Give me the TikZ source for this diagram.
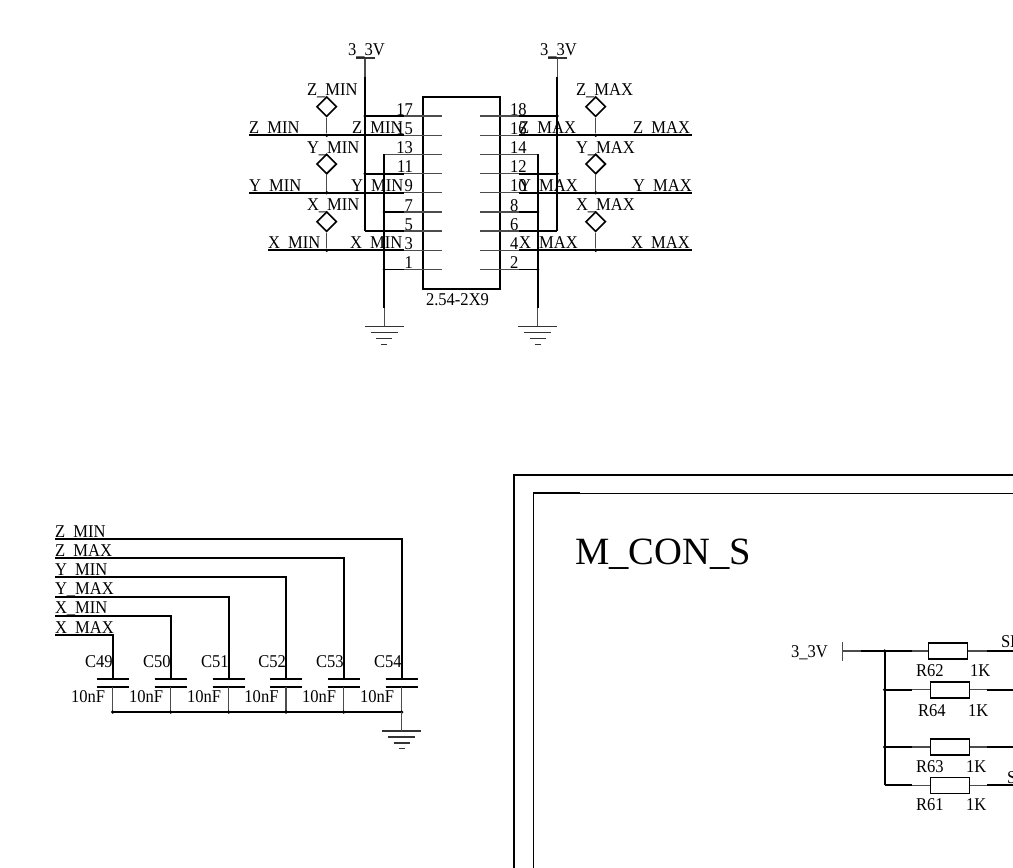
\documentclass[tikz,border=0pt]{standalone}
\usepackage{fontspec}
\setmainfont{Liberation Serif}
\newfontfamily\lblfont[FakeStretch=0.92]{Liberation Serif}
\usetikzlibrary{shapes.geometric}
\tikzstyle{lbl}		=[inner sep=0pt,outer sep=0pt,font=\lblfont\fontsize{18}{20}\selectfont]
\tikzstyle{lblE}	=[lbl,anchor=base east]
\tikzstyle{lblW}	=[lbl,anchor=base west]
\tikzstyle{title}	=[inner sep=0pt,outer sep=0pt,anchor=base west,font=\fontsize{38.6}{40}\selectfont]
\tikzstyle{dia}		=[diamond,draw=black,line width=1.6pt,fill=white,minimum size=20pt,inner sep=0pt]
\tikzstyle{dot}		=[circle,fill=black,minimum size=3.6pt,inner sep=0pt]
\tikzstyle{res}		=[rectangle,draw=black,line width=1.6pt,fill=white,minimum width=39pt,minimum height=16pt,inner sep=0pt]
\tikzstyle{edgepin}	=[draw,black!70,line width=1.1pt]
\tikzstyle{edgew}	=[draw,black,line width=1.8pt]
\tikzstyle{edgebar}	=[draw,black!80,line width=1.2pt]
\tikzstyle{edgeframe}=[draw,black,line width=1.4pt]
\begin{document}
\begin{tikzpicture}[x=1pt,y=-1pt]
	\useasboundingbox (0,0) rectangle (1013,868);
	\clip (0,0) rectangle (1013,868);

	%%%%% Connector body
	\coordinate (bodyA) at (422.7,96.7);
	\coordinate (bodyB) at (500,288.7);
	\draw[line width=1.6pt] (bodyA) rectangle (bodyB);
	\node[lblW] (bodyname) at (426,305) {2.54-2X9};

	%%%%% Pins, odd side then even side
	\foreach \y/\num/\from/\thick in {116/17/365/404,135.3/15/249/404,154.4/13/384.3/384.3,173.7/11/365/404,192.7/9/249/404,212/7/384.3/404,231/5/365/404,250.3/3/268/404,269.5/1/384.3/404}{
		\coordinate (p\num) at (442,\y);
		\coordinate (q\num) at (\from,\y);
		\coordinate (m\num) at (\thick,\y);
		\node[lblE] (n\num) at (413,\y-1) {\num};
		\path[edgepin] (q\num) -- (p\num);
		\path[edgew] (q\num) -- (m\num);
	}
	\foreach \y/\num/\to/\thick in {116/18/557.3/519,135.3/16/691.7/519,154.4/14/537.7/537.7,173.7/12/557.3/519,192.7/10/691.7/519,212/8/537.7/519,231/6/557.3/519,250.3/4/691.7/519,269.5/2/537.7/519}{
		\coordinate (p\num) at (480,\y);
		\coordinate (q\num) at (\to,\y);
		\coordinate (m\num) at (\thick,\y);
		\node[lblW] (n\num) at (510,\y-1) {\num};
		\path[edgepin] (p\num) -- (q\num);
		\path[edgew] (m\num) -- (q\num);
	}

	%%%%% Supply and ground rails
	\foreach \name/\x/\ya/\yb/\yc in {rl/365/58/77/231,rr/557.3/58/77/231,gl/384.3/326.7/308/154.4,gr/537.7/326.7/308/154.4}{
		\coordinate (\name a) at (\x,\ya);
		\coordinate (\name b) at (\x,\yb);
		\coordinate (\name c) at (\x,\yc);
		\path[edgepin] (\name a) -- (\name b);
		\path[edgew] (\name b) -- (\name c);
	}
	\foreach \x/\name in {365/rl,557.3/rr}{
		\coordinate (\name t1) at (\x-9.5,58);
		\coordinate (\name t2) at (\x+9.5,58);
		\path[edgebar] (\name t1) -- (\name t2);
	}
	\node[lblW] (vl) at (348,55) {3\_3V};
	\node[lblW] (vr) at (540,55) {3\_3V};

	%%%%% Ground symbols
	\foreach \name/\x/\y in {gndl/384.3/326.7,gndr/537.7/326.7,gndc/401.7/731}{
		\foreach \i/\w/\dy in {1/19.5/0,2/13.7/6,3/8/12,4/3/17.5}{
			\coordinate (\name a\i) at (\x-\w,\y+\dy);
			\coordinate (\name b\i) at (\x+\w,\y+\dy);
			\path[edgebar] (\name a\i) -- (\name b\i);
		}
	}

	%%%%% Test points
	\foreach \x/\y/\yn/\name in {326.7/106.7/135.3/tz0,326.7/164/192.7/ty0,326.7/221.7/250.3/tx0,595.7/106.7/135.3/tz1,595.7/164/192.7/ty1,595.7/221.7/250.3/tx1}{
		\node[dia] (\name) at (\x,\y) {};
		\node[dot] (\name d) at (\x,\yn) {};
		\path[edgepin] (\name) -- (\name d);
	}
	\foreach \x/\y in {365/116,365/135.3,365/173.7,365/192.7,384.3/212,384.3/250.3,384.3/269.5,557.3/116,557.3/135.3,557.3/173.7,537.7/212,537.7/269.5,537.7/250.3}
		\fill (\x,\y) circle (1.6pt);

	%%%%% Net labels
	\foreach \x/\y/\txt in {307/95/Z\_MIN,249/133/Z\_MIN,352/133/Z\_MIN,307/153/Y\_MIN,249/191/Y\_MIN,351/191/Y\_MIN,307/210/X\_MIN,268/248/X\_MIN,350/248/X\_MIN,576/95/Z\_MAX,519/133/Z\_MAX,633/133/Z\_MAX,576/153/Y\_MAX,519/191/Y\_MAX,633/191/Y\_MAX,576/210/X\_MAX,519/248/X\_MAX,631/248/X\_MAX}
		\node[lblW] at (\x,\y) {\txt};

	%%%%% Filter capacitors
	\foreach \x/\y/\cname/\txt/\yl in {401.7/539/C54/Z\_MIN/537,343.7/558/C53/Z\_MAX/556,286/577.3/C52/Y\_MIN/575,228.7/596.7/C51/Y\_MAX/594.5,170.7/615.7/C50/X\_MIN/613.5,112.7/635/C49/X\_MAX/633}{
		\coordinate (\cname s) at (55,\y);
		\coordinate (\cname k) at (\x,\y);
		\coordinate (\cname t) at (\x,679);
		\coordinate (\cname u) at (\x,687);
		\coordinate (\cname v) at (\x,712);
		\coordinate (\cname a) at (\x-16,679);
		\coordinate (\cname b) at (\x+16,679);
		\coordinate (\cname c) at (\x-16,687);
		\coordinate (\cname d) at (\x+16,687);
		\path[edgew] (\cname s) -- (\cname k) -- (\cname t);
		\path[edgew] (\cname a) -- (\cname b);
		\path[edgew] (\cname c) -- (\cname d);
		\path[edgepin] (\cname u) -- (\cname v);
		\node[dot] (\cname j) at (\cname v) {};
		\node[lblE] (\cname l) at (\x,667.7) {\cname};
		\node[lblE] (\cname f) at (\x-7.5,702) {10nF};
		\node[lblW] (\cname n) at (55,\yl) {\txt};
	}
	\path[edgew] (C49v) -- (C54v);
	\coordinate (gndctop) at (401.7,731);
	\path[edgepin] (C54v) -- (gndctop);

	%%%%% Sheet frame
	\coordinate (framea) at (514,868);
	\coordinate (frameb) at (514,475);
	\coordinate (framec) at (1013,475);
	\coordinate (framed) at (533.3,868);
	\coordinate (framee) at (533.3,493.3);
	\coordinate (framef) at (1013,493.3);
	\coordinate (frameg) at (580,493.3);
	\path[edgeframe] (framea) -- (frameb) -- (framec);
	\path[edgeframe] (framed) -- (framee) -- (framef);
	\path[edgew] (framee) -- (frameg);
	\node[title] (sheet) at (575,564) {M\_CON\_S};

	%%%%% Pull-up resistors
	\coordinate (tick1) at (842.7,641.5);
	\coordinate (tick2) at (842.7,660.5);
	\coordinate (vcc) at (842.7,651);
	\coordinate (busa) at (884.7,651);
	\coordinate (busb) at (884.7,785.3);
	\path[edgepin] (tick1) -- (tick2);
	\path[edgepin] (vcc) -- (busa);
	\path[edgew] (busa) -- (busb);
	\node[lblW] (vcclbl) at (791,657) {3\_3V};
	\foreach \y/\xc/\name/\xa/\xk/\yl in {651/947.8/R62/916/970/676,689.7/950/R64/918/968/716.7,747/950/R63/916/966/772,785.3/950/R61/916/966/810.7}{
		\coordinate (\name a) at (884.7,\y);
		\coordinate (\name b) at (1013,\y);
		\coordinate (\name e) at (912,\y);
		\coordinate (\name f) at (987,\y);
		\path[edgepin] (\name a) -- (\name b);
		\path[edgew] (\name a) -- (\name e);
		\path[edgew] (\name f) -- (\name b);
		\node[res] (\name) at (\xc,\y) {};
		\node[lblW] (\name l) at (\xa,\yl) {\name};
		\node[lblW] (\name v) at (\xk,\yl) {1K};
	}
	\coordinate (vcct) at (861,651);
	\path[edgew] (vcct) -- (R62e);
	\node[dot] (busj1) at (R62a) {};
	\node[dot] (busj2) at (R64a) {};
	\node[dot] (busj3) at (R63a) {};
	\node[lblW] (sclk) at (1001,647) {SI};
	\node[lblW] (sdat) at (1007,783) {S};
\end{tikzpicture}
\end{document}
